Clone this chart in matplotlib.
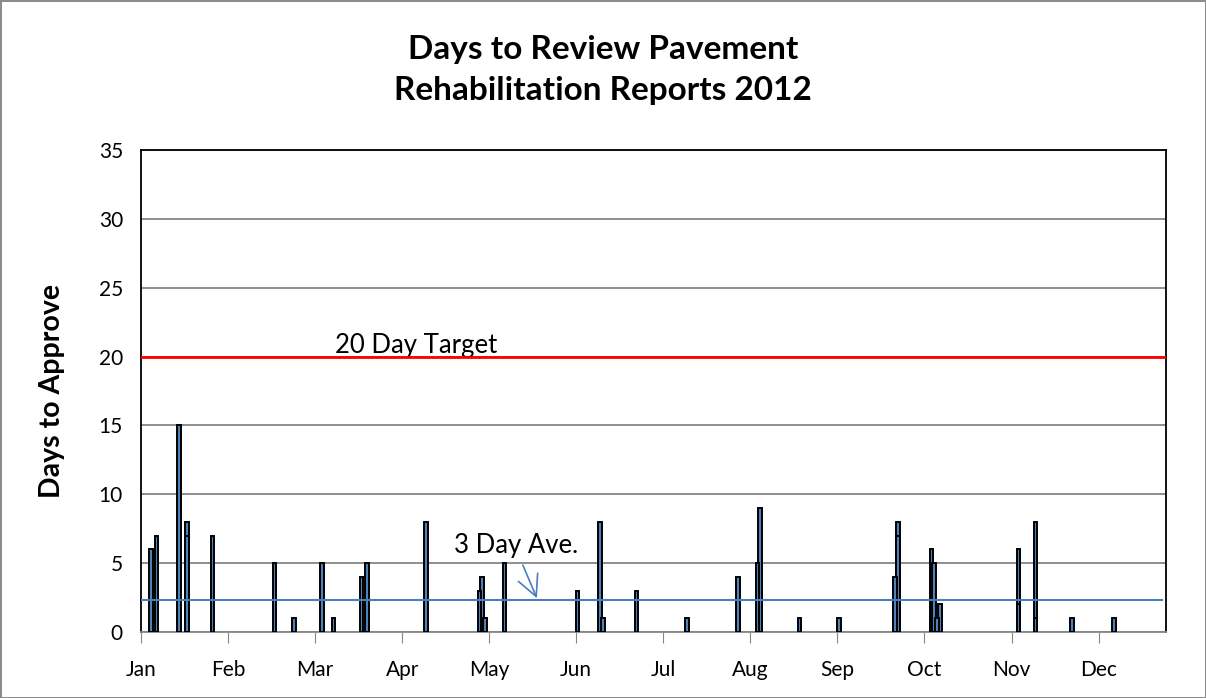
import numpy as np
import matplotlib
matplotlib.use("Agg")
import matplotlib.pyplot as plt
import matplotlib.dates as mdates

plt.rcParams['font.family'] = ['Lato', 'DejaVu Sans']

# review dates and days taken to approve (some dates have two reports)
dates = ['2012-01-04', '2012-01-06', '2012-01-14', '2012-01-17', '2012-01-17',
         '2012-01-26', '2012-02-17', '2012-02-24', '2012-03-05', '2012-03-09',
         '2012-03-19', '2012-03-21', '2012-04-11', '2012-04-30', '2012-05-01',
         '2012-05-02', '2012-05-09', '2012-06-04', '2012-06-12', '2012-06-13',
         '2012-06-25', '2012-07-13', '2012-07-31', '2012-08-07', '2012-08-08',
         '2012-08-22', '2012-09-05', '2012-09-25', '2012-09-26', '2012-09-26',
         '2012-10-08', '2012-10-09', '2012-10-10', '2012-10-11', '2012-11-08',
         '2012-11-08', '2012-11-14', '2012-11-14', '2012-11-27', '2012-12-12']
days = [6, 7, 15, 8, 7,
        7, 5, 1, 5, 1,
        4, 5, 8, 3, 4,
        1, 5, 3, 8, 1,
        3, 1, 4, 5, 9,
        1, 1, 4, 8, 7,
        6, 5, 1, 2, 6,
        2, 8, 1, 1, 1]

target = 20
average = 2.35
month_labels = ['Jan', 'Feb', 'Mar', 'Apr', 'May', 'Jun',
                'Jul', 'Aug', 'Sep', 'Oct', 'Nov', 'Dec']

start = np.datetime64('2012-01-01')
end = np.datetime64('2012-12-31')
x = mdates.date2num(np.array(dates, dtype='datetime64[D]')) + 0.5
y = np.array(days)

def d2n(s):
    return mdates.date2num(np.datetime64(s, 'h'))

fig = plt.figure(figsize=(12.06, 6.98), dpi=100)
fig.patch.set_edgecolor('#8c8c8c')
fig.patch.set_linewidth(2)
ax = fig.add_axes([0.1169, 0.0946, 0.8499, 0.6904])

# draw taller bars first so the shorter one on the same day shows its top edge
order = np.argsort(-y, kind='stable')
ax.bar(x[order], y[order], width=1.3, color='#4f81bd', edgecolor='black',
       linewidth=1.4, zorder=3)

x0 = mdates.date2num(start)
x1 = mdates.date2num(end)
ax.plot([x0, x1], [target, target], color='#ff0000', lw=2, zorder=4)
ax.plot([x0, x1 - 1.3], [average, average], color='#4a7ebb', lw=1.5, zorder=4)

ax.text(d2n('2012-03-10T00'), target + 0.25, '20 Day Target',
        fontsize=18.5, ha='left', va='baseline')
ax.text(d2n('2012-05-13T12'), 5.7, '3 Day Ave.',
        fontsize=18.5, ha='center', va='baseline')
ax.annotate('', xy=(d2n('2012-05-21T00'), average + 0.1),
            xytext=(d2n('2012-05-16T00'), 4.85),
            arrowprops=dict(arrowstyle='->,head_length=0.5,head_width=0.25',
                            color='#4a7ebb', lw=1.2,
                            shrinkA=0, shrinkB=0, mutation_scale=30),
            zorder=5)

ax.set_xlim(x0, x1)
ax.set_ylim(0, 35)
ax.set_yticks(np.arange(0, 36, 5))
ticks = mdates.date2num(start + np.arange(12) * np.timedelta64(31, 'D'))
ax.set_xticks(ticks)
ax.set_xticklabels(month_labels)
ax.grid(axis='y', color='#868686', lw=1.3, zorder=0)
ax.set_axisbelow(True)

ax.tick_params(axis='y', length=0, labelsize=15, pad=13)
ax.tick_params(axis='x', length=8, color='#868686', labelsize=15, pad=12)
for s in ['left', 'top', 'right']:
    ax.spines[s].set_color('black')
    ax.spines[s].set_linewidth(1.3)
ax.spines['bottom'].set_color('#868686')
ax.spines['bottom'].set_linewidth(1.3)

ax.set_ylabel('Days to Approve', fontsize=20.5, fontweight='bold', labelpad=24)
fig.suptitle('Days to Review Pavement\nRehabilitation Reports 2012',
             fontsize=24, fontweight='bold', y=0.95, linespacing=1.5)

fig.savefig('out.png', dpi=100, edgecolor=fig.get_edgecolor())
